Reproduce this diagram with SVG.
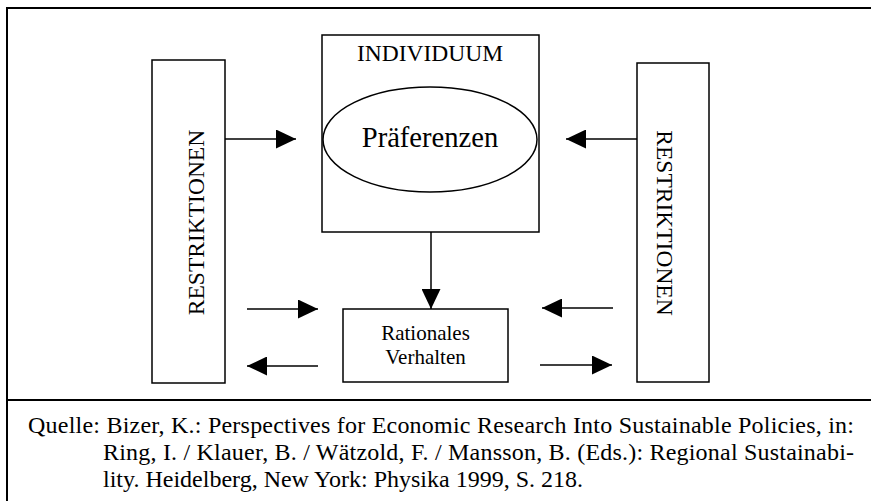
<svg xmlns="http://www.w3.org/2000/svg" width="871" height="501" viewBox="0 0 871 501">
<style>
.box{fill:#fff;stroke:#000;stroke-width:1.5}
.frame{fill:none;stroke:#000;stroke-width:2}
text{font-family:'Liberation Serif','Times New Roman','DejaVu Serif',serif;fill:#000}
.conn{stroke:#000;stroke-width:1.5;fill:none;marker-end:url(#ah)}
</style>
<defs>
<marker id="ah" markerUnits="userSpaceOnUse" markerWidth="21" markerHeight="19" refX="20" refY="9.5" orient="auto">
<path d="M0,0 L20,9.5 L0,19 Z" fill="#000"/>
</marker>
</defs>
<rect width="871" height="501" fill="#fff"/>
<g id="frame">
<path class="frame" d="M7,510 V8 H880"/>
<path class="frame" d="M7,400 H880"/>
</g>
<g id="restriktionen-left">
<rect class="box" x="152" y="60" width="73" height="323"/>
<text font-size="23.5" text-anchor="middle" transform="translate(203.5,222.5) rotate(-90)">RESTRIKTIONEN</text>
</g>
<g id="restriktionen-right">
<rect class="box" x="637" y="63" width="72" height="319"/>
<text font-size="23.5" text-anchor="middle" transform="translate(657,223) rotate(90)">RESTRIKTIONEN</text>
</g>
<g id="individuum">
<rect class="box" x="322" y="35" width="217" height="197"/>
<text font-size="23.5" text-anchor="middle" x="430" y="61">INDIVIDUUM</text>
</g>
<g id="praeferenzen">
<ellipse class="box" cx="430" cy="139.5" rx="107" ry="52.5"/>
<text font-size="28.6" text-anchor="middle" x="430" y="147">Präferenzen</text>
</g>
<g id="rationales-verhalten">
<rect class="box" x="343" y="309" width="165" height="73"/>
<text font-size="21" text-anchor="middle" x="425.5" y="340">Rationales</text>
<text font-size="21" text-anchor="middle" x="425.5" y="364">Verhalten</text>
</g>
<g id="connectors">
<line class="conn" x1="225" y1="139" x2="296" y2="139"/>
<line class="conn" x1="637" y1="139" x2="566" y2="139"/>
<line class="conn" x1="431" y1="232" x2="431" y2="309"/>
<line class="conn" x1="247" y1="309" x2="318" y2="309"/>
<line class="conn" x1="318" y1="366" x2="247" y2="366"/>
<line class="conn" x1="613" y1="308" x2="542" y2="308"/>
<line class="conn" x1="540" y1="365" x2="612" y2="365"/>
</g>
<g id="caption">
<text font-size="24" x="28" y="433" textLength="826" lengthAdjust="spacing">Quelle: Bizer, K.: Perspectives for Economic Research Into Sustainable Policies, in:</text>
<text font-size="24" x="103" y="460" textLength="751" lengthAdjust="spacing">Ring, I. / Klauer, B. / Wätzold, F. / Mansson, B. (Eds.): Regional Sustainabi-</text>
<text font-size="24" x="103" y="487">lity. Heidelberg, New York: Physika 1999, S. 218.</text>
</g>
</svg>
